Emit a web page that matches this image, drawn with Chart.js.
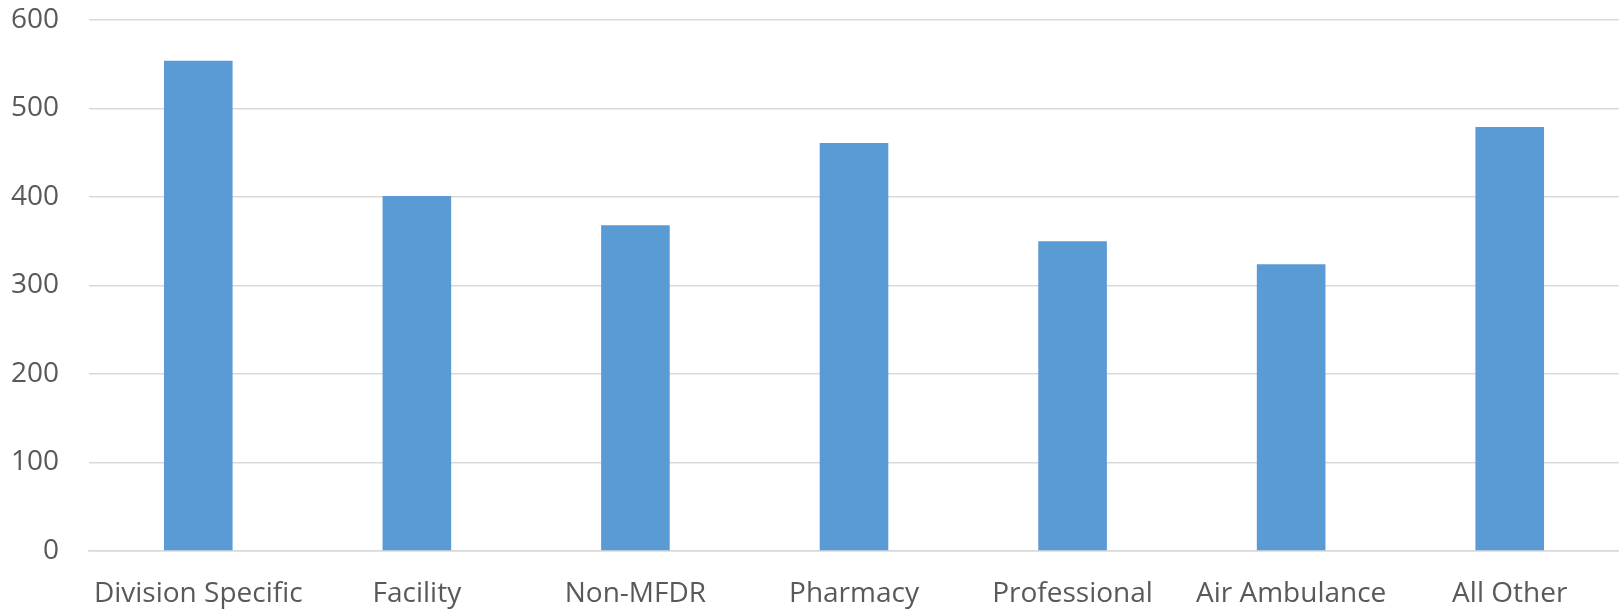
<!DOCTYPE html>
<html>
<head>
<meta charset="utf-8">
<script src="https://cdn.jsdelivr.net/npm/chart.js@4/dist/chart.umd.min.js"></script>
<style>
  html, body { margin: 0; padding: 0; background: #fff; }
  #wrap { width: 1619px; height: 610px; }
</style>
</head>
<body>
<div id="wrap"><canvas id="c" width="1619" height="610"></canvas></div>
<script>
const categories = ["Division Specific", "Facility", "Non-MFDR", "Pharmacy", "Professional", "Air Ambulance", "All Other"];
const counts = [554, 401, 368, 461, 350, 324, 479];
const yTicks = [0, 100, 200, 300, 400, 500, 600];

const textColor = "#595959";
const fontSpec = { family: "'Open Sans', sans-serif", size: 28 };

new Chart(document.getElementById("c"), {
  type: "bar",
  data: {
    labels: categories,
    datasets: [{
      data: counts,
      backgroundColor: "#5B9BD5",
      borderWidth: 0,
      categoryPercentage: 1,
      barPercentage: 0.314
    }]
  },
  options: {
    responsive: false,
    animation: false,
    layout: { padding: { top: 20, right: 0, left: 0, bottom: 0 } },
    plugins: { legend: { display: false }, tooltip: { enabled: false } },
    scales: {
      x: {
        grid: { display: false, drawTicks: false },
        border: { display: true, color: "#D9D9D9", width: 1.5 },
        ticks: { color: textColor, font: fontSpec, padding: 26, maxRotation: 0, autoSkip: false },
        afterFit: (s) => { s.height = 59; s.paddingLeft = 0; s.paddingRight = 0; }
      },
      y: {
        min: 0,
        max: 600,
        afterBuildTicks: (s) => { s.ticks = yTicks.map(v => ({ value: v })); },
        grid: { color: "#D9D9D9", lineWidth: 1.5, drawTicks: false },
        border: { display: false },
        ticks: { color: textColor, font: fontSpec, padding: 30 },
        afterFit: (s) => { s.width = 89; s.paddingTop = 0; s.paddingBottom = 0; }
      }
    }
  }
});
</script>
</body>
</html>
